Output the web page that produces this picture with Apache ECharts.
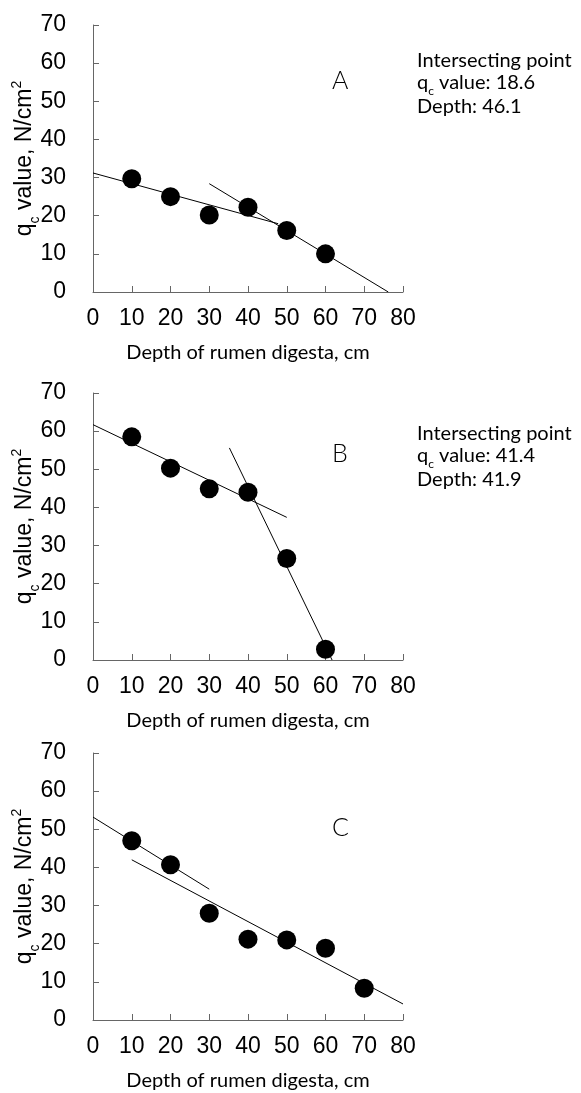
<!DOCTYPE html>
<html>
<head>
<meta charset="utf-8">
<script src="https://cdn.jsdelivr.net/npm/echarts@6/dist/echarts.min.js"></script>
<style>
html,body{margin:0;padding:0;background:#fff;}
#chart{width:581px;height:1093px;}
</style>
</head>
<body>
<div id="chart"></div>
<script>
// ---- data ----
const panelLabels = ['A', 'B', 'C'];
const xTicks = [0, 10, 20, 30, 40, 50, 60, 70, 80];
const yTicks = [0, 10, 20, 30, 40, 50, 60, 70];

const pointsA = [[10, 29.7], [20, 25.0], [30, 20.2], [40, 22.2], [50, 16.1], [60, 10.0]];
const fitA1 = [[0, 31.2], [47.8, 17.9]];
const fitA2 = [[30, 28.4], [76.2, 0]];

const pointsB = [[10, 58.5], [20, 50.3], [30, 44.9], [40, 44.0], [50, 26.6], [60, 2.8]];
const fitB1 = [[0, 61.7], [50, 37.4]];
const fitB2 = [[35.2, 55.6], [61.7, 0]];

const pointsC = [[10, 47.0], [20, 40.7], [30, 28.0], [40, 21.2], [50, 21.0], [60, 18.8], [70, 8.3]];
const fitC1 = [[0, 53.2], [30, 34.3]];
const fitC2 = [[10, 42.0], [80, 4.2]];

const intersectA = { qc: '18.6', depth: '46.1' };
const intersectB = { qc: '41.4', depth: '41.9' };

const xName = 'Depth of rumen digesta, cm';

// ---- chart ----
const chart = echarts.init(document.getElementById('chart'), null, { renderer: 'canvas' });

const tickFont = '"Liberation Sans Narrow", "Liberation Sans", Arial, sans-serif';
const textFont = 'Lato, "Open Sans", sans-serif';

const grids = [
  { left: 93, width: 310, top: 25, height: 267, outerBoundsMode: 'none', containLabel: false },
  { left: 93, width: 310, top: 393, height: 267, outerBoundsMode: 'none', containLabel: false },
  { left: 93, width: 310, top: 753, height: 267, outerBoundsMode: 'none', containLabel: false }
];

function xAxis(i) {
  return {
    type: 'value', gridIndex: i, min: xTicks[0], max: xTicks[xTicks.length - 1], interval: 10,
    splitLine: { show: false },
    axisLine: { show: true, lineStyle: { color: '#666', width: 1 } },
    axisTick: { show: true, inside: true, length: 6, lineStyle: { color: '#666' } },
    axisLabel: { fontFamily: tickFont, fontSize: 23, color: '#000', margin: 15 },
    name: xName, nameLocation: 'middle', nameGap: 51, nameMoveOverlap: false,
    nameTextStyle: { fontFamily: textFont, fontSize: 20, color: '#000' }
  };
}
function yAxis(i) {
  return {
    type: 'value', gridIndex: i, min: yTicks[0], max: yTicks[yTicks.length - 1], interval: 10,
    splitLine: { show: false },
    axisLine: { show: true, lineStyle: { color: '#666', width: 1 } },
    axisTick: { show: true, inside: true, length: 6, lineStyle: { color: '#666' } },
    axisLabel: { fontFamily: tickFont, fontSize: 23, color: '#000', margin: 27 },
    name: '{m|q}{s|c}{m| value, N/cm}{p|2}', nameLocation: 'middle', nameGap: 55, nameRotate: 90,
    nameMoveOverlap: false,
    nameTextStyle: {
      fontFamily: tickFont, fontSize: 23, color: '#000',
      rich: {
        m: { fontFamily: tickFont, fontSize: 23, color: '#000', lineHeight: 26 },
        s: { fontFamily: tickFont, fontSize: 14, color: '#000', verticalAlign: 'bottom', lineHeight: 26, padding: [0, 0, -4, 0] },
        p: { fontFamily: tickFont, fontSize: 14, color: '#000', verticalAlign: 'top', lineHeight: 26, padding: [-2, 0, 0, 0] }
      }
    }
  };
}

function scatter(i, data) {
  return { type: 'scatter', xAxisIndex: i, yAxisIndex: i, data: data, symbol: 'circle', symbolSize: 19,
    itemStyle: { color: '#000', opacity: 1 }, z: 3, silent: true };
}
function fit(i, data) {
  return { type: 'line', xAxisIndex: i, yAxisIndex: i, data: data, symbol: 'none',
    lineStyle: { color: '#000', width: 1 }, z: 2, silent: true, animation: false };
}

const annoRich = {
  m: { fontFamily: textFont, fontSize: 20, fill: '#000', lineHeight: 23 },
  s: { fontFamily: textFont, fontSize: 12, fill: '#000', verticalAlign: 'bottom', lineHeight: 23, padding: [0, 0, -3, 0] }
};
function anno(x, y, info) {
  return [
    { type: 'text', left: x, top: y, style: { text: 'Intersecting point', fontFamily: textFont, fontSize: 20, fill: '#000' } },
    { type: 'text', left: x, top: y + 22, style: { text: '{m|q}{s|c}{m| value: ' + info.qc + '}', rich: annoRich } },
    { type: 'text', left: x, top: y + 46, style: { text: 'Depth: ' + info.depth, fontFamily: textFont, fontSize: 20, fill: '#000' } }
  ];
}
function letter(x, y, t) {
  return { type: 'text', left: x, top: y, style: { text: t, fontFamily: textFont, fontSize: 25, fontWeight: 300, fill: '#000' } };
}

const option = {
  backgroundColor: '#fff',
  animation: false,
  grid: grids,
  xAxis: [xAxis(0), xAxis(1), xAxis(2)],
  yAxis: [yAxis(0), yAxis(1), yAxis(2)],
  series: [
    fit(0, fitA1), fit(0, fitA2), scatter(0, pointsA),
    fit(1, fitB1), fit(1, fitB2), scatter(1, pointsB),
    fit(2, fitC1), fit(2, fitC2), scatter(2, pointsC)
  ],
  graphic: [].concat(
    anno(417, 51, intersectA),
    anno(417, 424, intersectB),
    [letter(332, 68, panelLabels[0]), letter(332, 441, panelLabels[1]), letter(332, 815, panelLabels[2])]
  )
};
chart.setOption(option);
</script>
</body>
</html>
